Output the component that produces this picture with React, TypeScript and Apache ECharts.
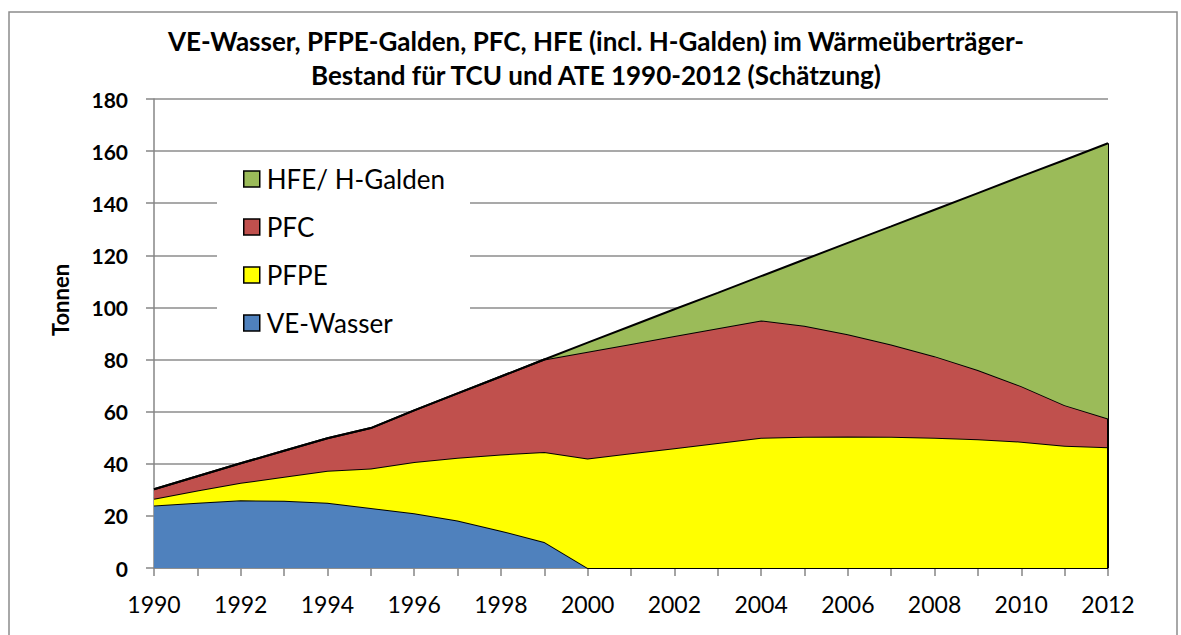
import React, { useEffect, useRef } from "react";
import * as echarts from "echarts";

const years = ["1990","1991","1992","1993","1994","1995","1996","1997","1998","1999","2000","2001","2002","2003","2004","2005","2006","2007","2008","2009","2010","2011","2012"];
const veWasser = [24, 25, 26, 25.8, 25, 23, 21, 18.2, 14.3, 10, 0, 0, 0, 0, 0, 0, 0, 0, 0, 0, 0, 0, 0];
const pfpe = [2.6, 4.7, 6.7, 9.2, 12.3, 15.2, 19.7, 24.1, 29.3, 34.5, 42, 44, 46, 48, 50, 50.4, 50.5, 50.4, 50, 49.4, 48.5, 46.9, 46.3];
const pfc = [3.6, 5.5, 7.5, 10, 12.5, 15.5, 19.8, 24.7, 29.9, 35.5, 41, 42, 43, 44, 45, 42.6, 39.2, 35.4, 31.3, 26.6, 21.3, 15.6, 11.1];
const hfe = [0, 0, 0, 0, 0, 0, 0, 0, 0, 0, 3.5, 6.9, 10.3, 13.6, 17, 25.4, 35.1, 45.3, 56.2, 67.9, 80.5, 94.1, 105.6];
const seriesNames = ["VE-Wasser", "PFPE", "PFC", "HFE/ H-Galden"];
const colors = ["#4F81BD", "#FFFF00", "#C0504D", "#9BBB59"];
const titleText = "VE-Wasser, PFPE-Galden, PFC, HFE (incl. H-Galden) im Wärmeüberträger-\nBestand für TCU und ATE 1990-2012 (Schätzung)";
const yAxisTitle = "Tonnen";

const FONT = "Lato, 'Open Sans', sans-serif";

export default function App() {
  const ref = useRef<HTMLDivElement>(null);
  useEffect(() => {
    if (!ref.current) return;
    const chart = echarts.init(ref.current, null, { renderer: "svg" });
    const datasets = [veWasser, pfpe, pfc, hfe];
    const last = years.length - 1;
    const total = datasets.reduce((s, d) => s + d[last], 0);
    chart.setOption({
      animation: false,
      backgroundColor: "#fff",
      textStyle: { fontFamily: FONT },
      title: {
        text: titleText,
        left: 591,
        textAlign: "center",
        top: 19,
        textStyle: { fontFamily: FONT, fontSize: 26, fontWeight: "bold", color: "#000", lineHeight: 34 },
      },
      graphic: [
        {
          type: "rect",
          shape: { x: 9, y: 12, width: 1168, height: 640 },
          style: { fill: "none", stroke: "#8c8c8c", lineWidth: 1.5 },
          silent: true,
          z: -1,
        },
        {
          type: "text",
          x: 60,
          y: 300,
          rotation: Math.PI / 2,
          style: {
            text: yAxisTitle,
            fontFamily: FONT,
            fontSize: 22,
            fontWeight: "bold",
            fill: "#000",
            align: "center",
            verticalAlign: "middle",
          },
          silent: true,
        },
      ],
      legend: {
        orient: "vertical",
        left: 217,
        top: 158,
        padding: [8, 25, 10, 26],
        itemGap: 22,
        itemWidth: 16,
        itemHeight: 16,
        icon: "rect",
        backgroundColor: "#fff",
        data: ["HFE/ H-Galden", "PFC", "PFPE", "VE-Wasser"],
        textStyle: { fontFamily: FONT, fontSize: 26, lineHeight: 25, color: "#000", padding: [0, 0, 0, 2] },
        itemStyle: { borderColor: "#000", borderWidth: 1.5 },
      },
      grid: { left: 154, right: 73, top: 99, bottom: 67 },
      xAxis: {
        type: "category",
        data: years,
        boundaryGap: false,
        axisLine: { lineStyle: { color: "#868686", width: 1.5 } },
        axisTick: { interval: 0, length: 8, lineStyle: { color: "#868686", width: 1.5 } },
        axisLabel: { interval: 1, fontSize: 23, color: "#000", margin: 24, fontFamily: FONT },
      },
      yAxis: {
        type: "value",
        min: 0,
        max: 180,
        interval: 20,
        axisLine: { show: true, lineStyle: { color: "#868686", width: 1.5 } },
        axisTick: { show: true, length: 8, lineStyle: { color: "#868686", width: 1.5 } },
        axisLabel: { fontSize: 21, fontWeight: "bold", color: "#000", margin: 26, fontFamily: FONT },
        splitLine: { lineStyle: { color: "#8c8c8c", width: 1.5 } },
      },
      series: datasets.map((d, i) => ({
        name: seriesNames[i],
        type: "line",
        stack: "total",
        data: d,
        symbol: "none",
        color: colors[i],
        lineStyle: { color: "#000", width: 2 },
        areaStyle: { color: colors[i], opacity: 1 },
        z: 2 + i,
        markLine:
          i === 3
            ? {
                symbol: "none",
                silent: true,
                label: { show: false },
                lineStyle: { color: "#000", width: 2, type: "solid" },
                data: [[{ coord: [years[last], 0] }, { coord: [years[last], total] }]],
              }
            : undefined,
      })),
    });
    return () => chart.dispose();
  }, []);
  return <div ref={ref} style={{ position: "fixed", left: 0, top: 0, width: 1181, height: 635 }} />;
}
